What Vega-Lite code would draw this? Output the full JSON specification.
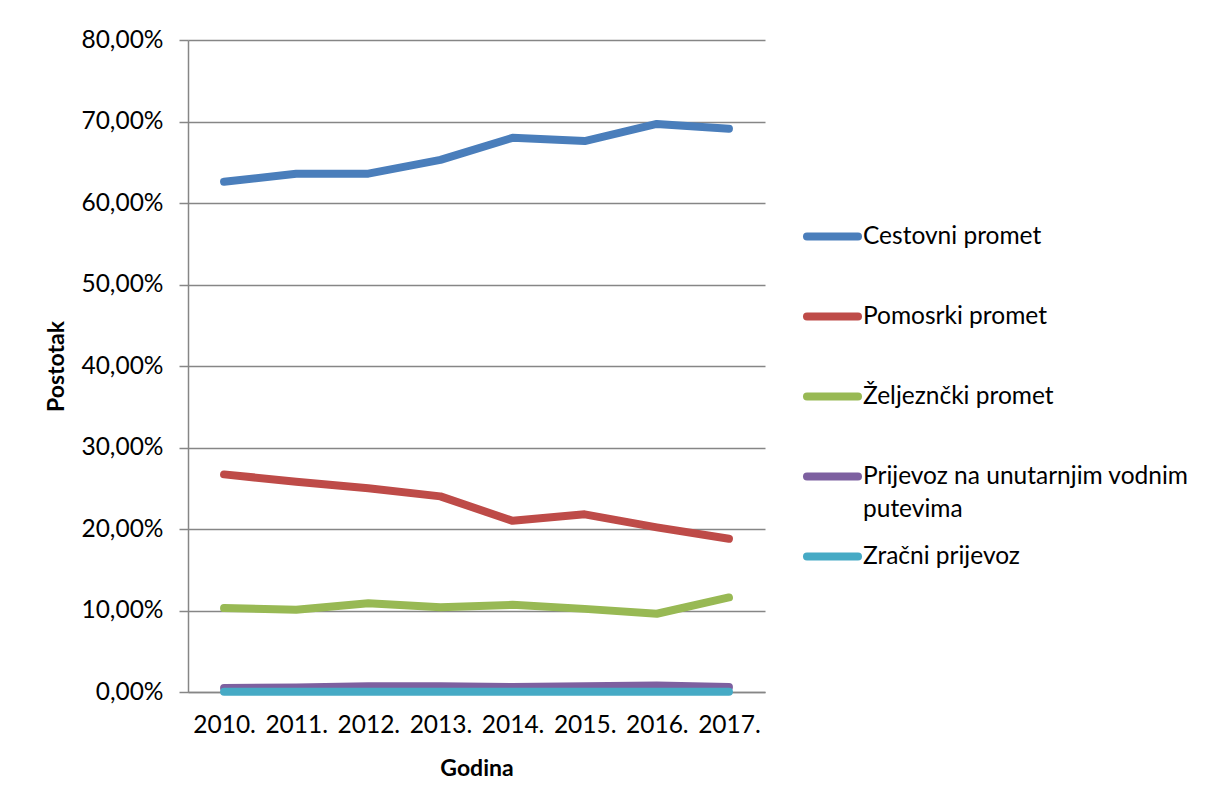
{
  "$schema": "https://vega.github.io/schema/vega-lite/v6.json",
  "autosize": {"type": "none"},
  "padding": {"left": 188, "top": 40, "right": 445, "bottom": 115},
  "width": 577,
  "height": 652,
  "background": "white",
  "data": {
    "values": [
      {"godina": "2010.", "vrsta": "Cestovni promet", "postotak": 62.6},
      {"godina": "2011.", "vrsta": "Cestovni promet", "postotak": 63.6},
      {"godina": "2012.", "vrsta": "Cestovni promet", "postotak": 63.6},
      {"godina": "2013.", "vrsta": "Cestovni promet", "postotak": 65.3},
      {"godina": "2014.", "vrsta": "Cestovni promet", "postotak": 68.0},
      {"godina": "2015.", "vrsta": "Cestovni promet", "postotak": 67.6},
      {"godina": "2016.", "vrsta": "Cestovni promet", "postotak": 69.7},
      {"godina": "2017.", "vrsta": "Cestovni promet", "postotak": 69.1},
      {"godina": "2010.", "vrsta": "Pomosrki promet", "postotak": 26.7},
      {"godina": "2011.", "vrsta": "Pomosrki promet", "postotak": 25.8},
      {"godina": "2012.", "vrsta": "Pomosrki promet", "postotak": 25.0},
      {"godina": "2013.", "vrsta": "Pomosrki promet", "postotak": 24.0},
      {"godina": "2014.", "vrsta": "Pomosrki promet", "postotak": 21.0},
      {"godina": "2015.", "vrsta": "Pomosrki promet", "postotak": 21.8},
      {"godina": "2016.", "vrsta": "Pomosrki promet", "postotak": 20.2},
      {"godina": "2017.", "vrsta": "Pomosrki promet", "postotak": 18.8},
      {"godina": "2010.", "vrsta": "Željeznčki promet", "postotak": 10.3},
      {"godina": "2011.", "vrsta": "Željeznčki promet", "postotak": 10.1},
      {"godina": "2012.", "vrsta": "Željeznčki promet", "postotak": 10.9},
      {"godina": "2013.", "vrsta": "Željeznčki promet", "postotak": 10.4},
      {"godina": "2014.", "vrsta": "Željeznčki promet", "postotak": 10.7},
      {"godina": "2015.", "vrsta": "Željeznčki promet", "postotak": 10.2},
      {"godina": "2016.", "vrsta": "Željeznčki promet", "postotak": 9.6},
      {"godina": "2017.", "vrsta": "Željeznčki promet", "postotak": 11.6},
      {"godina": "2010.", "vrsta": "Prijevoz na unutarnjim vodnim putevima", "postotak": 0.5},
      {"godina": "2011.", "vrsta": "Prijevoz na unutarnjim vodnim putevima", "postotak": 0.55},
      {"godina": "2012.", "vrsta": "Prijevoz na unutarnjim vodnim putevima", "postotak": 0.7},
      {"godina": "2013.", "vrsta": "Prijevoz na unutarnjim vodnim putevima", "postotak": 0.7},
      {"godina": "2014.", "vrsta": "Prijevoz na unutarnjim vodnim putevima", "postotak": 0.6},
      {"godina": "2015.", "vrsta": "Prijevoz na unutarnjim vodnim putevima", "postotak": 0.7},
      {"godina": "2016.", "vrsta": "Prijevoz na unutarnjim vodnim putevima", "postotak": 0.8},
      {"godina": "2017.", "vrsta": "Prijevoz na unutarnjim vodnim putevima", "postotak": 0.6},
      {"godina": "2010.", "vrsta": "Zračni prijevoz", "postotak": 0.02},
      {"godina": "2011.", "vrsta": "Zračni prijevoz", "postotak": 0.02},
      {"godina": "2012.", "vrsta": "Zračni prijevoz", "postotak": 0.02},
      {"godina": "2013.", "vrsta": "Zračni prijevoz", "postotak": 0.02},
      {"godina": "2014.", "vrsta": "Zračni prijevoz", "postotak": 0.02},
      {"godina": "2015.", "vrsta": "Zračni prijevoz", "postotak": 0.02},
      {"godina": "2016.", "vrsta": "Zračni prijevoz", "postotak": 0.02},
      {"godina": "2017.", "vrsta": "Zračni prijevoz", "postotak": 0.02}
    ]
  },
  "mark": {"type": "line", "strokeWidth": 8, "strokeCap": "round", "strokeJoin": "round"},
  "encoding": {
    "x": {
      "field": "godina",
      "type": "ordinal",
      "scale": {"type": "point", "padding": 0.5},
      "axis": {
        "title": "Godina",
        "labelAngle": 0,
        "ticks": false,
        "grid": false,
        "domainColor": "#868686",
        "domainWidth": 1.5,
        "labelPadding": 21,
        "titlePadding": 21
      }
    },
    "y": {
      "field": "postotak",
      "type": "quantitative",
      "scale": {"domain": [0, 80], "nice": false},
      "axis": {
        "title": "Postotak",
        "values": [0, 10, 20, 30, 40, 50, 60, 70, 80],
        "labelExpr": "replace(format(datum.value / 100, '.2%'), '.', ',')",
        "gridColor": "#868686",
        "gridWidth": 1.5,
        "domainColor": "#868686",
        "domainWidth": 1.5,
        "tickColor": "#868686",
        "tickWidth": 1.5,
        "tickSize": 9,
        "labelPadding": 16,
        "titlePadding": 12
      }
    },
    "color": {
      "field": "vrsta",
      "type": "nominal",
      "sort": ["Cestovni promet", "Pomosrki promet", "Željeznčki promet", "Prijevoz na unutarnjim vodnim putevima", "Zračni prijevoz"],
      "scale": {
        "domain": ["Cestovni promet", "Pomosrki promet", "Željeznčki promet", "Prijevoz na unutarnjim vodnim putevima", "Zračni prijevoz"],
        "range": ["#4a7ebb", "#be4b48", "#98b954", "#7d60a0", "#46aac5"]
      },
      "legend": {
        "title": null,
        "orient": "none",
        "legendX": 615,
        "legendY": 167,
        "padding": 0,
        "symbolType": "stroke",
        "symbolSize": 2601,
        "symbolStrokeWidth": 8,
        "rowPadding": 6,
        "labelOffset": 1,
        "labelLimit": 400,
        "labelExpr": "datum.label == 'Prijevoz na unutarnjim vodnim putevima' ? ['Prijevoz na unutarnjim vodnim', 'putevima'] : [datum.label, '']",
        "encode": {
          "symbols": {"update": {"strokeCap": {"value": "round"}}},
          "labels": {"update": {
            "lineHeight": {"value": 33}
          }}
        }
      }
    }
  },
  "config": {
    "font": "Lato",
    "view": {"stroke": null},
    "axis": {
      "labelFont": "Lato",
      "labelFontSize": 24.5,
      "labelColor": "#000000",
      "titleFont": "Lato",
      "titleFontSize": 23,
      "titleFontWeight": "bold",
      "titleColor": "#000000"
    },
    "legend": {
      "labelFont": "Lato",
      "labelFontSize": 24.5,
      "labelColor": "#000000"
    }
  }
}
